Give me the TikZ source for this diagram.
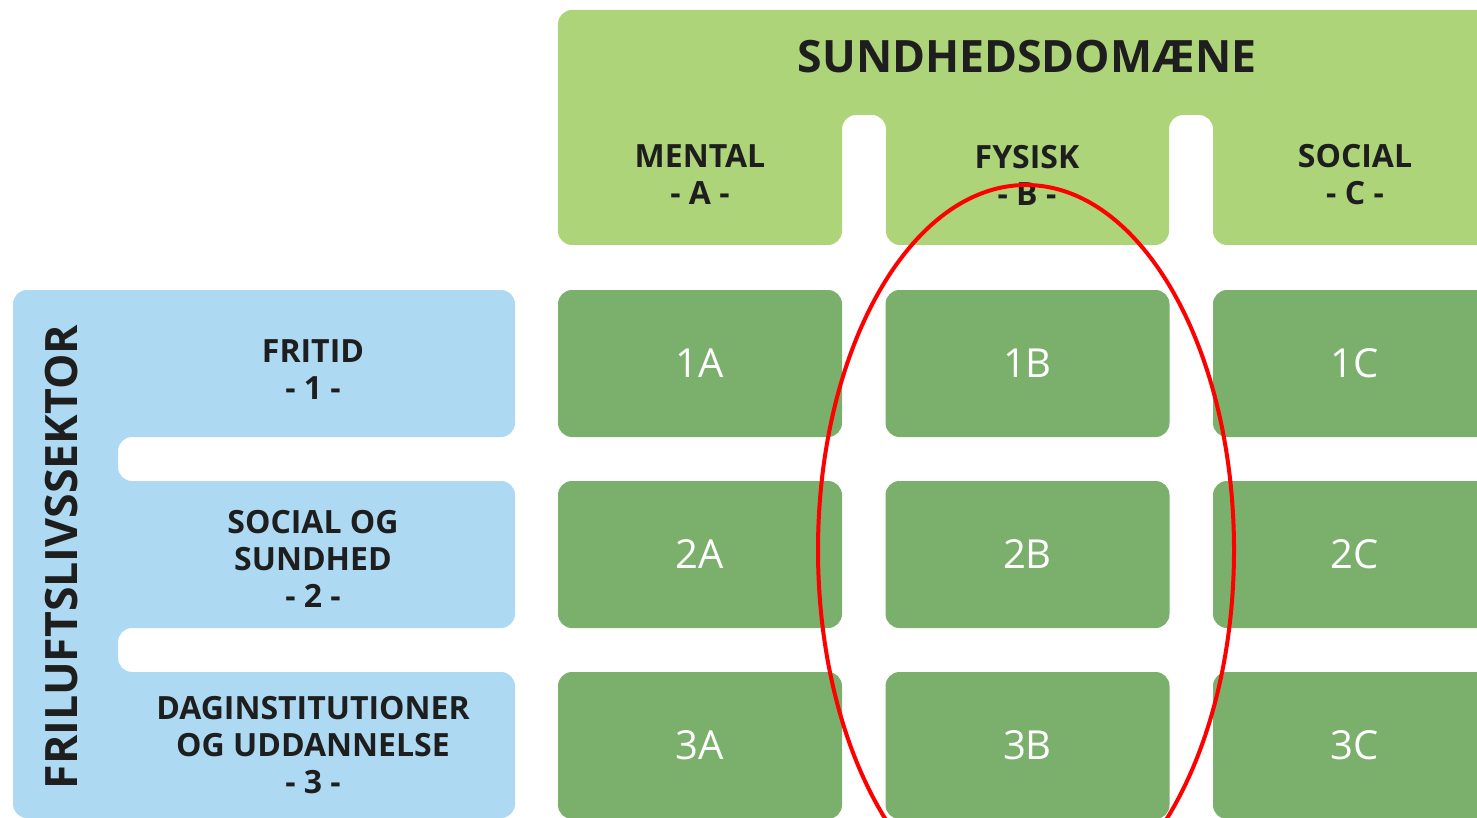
\documentclass[tikz,border=0pt]{standalone}
\usepackage{fontspec}
\setmainfont{Open Sans}
\definecolor{lightgreen}{HTML}{AED47A}
\definecolor{cellgreen}{HTML}{7AAF6C}
\definecolor{skyblue}{HTML}{ADD9F2}
\definecolor{darktext}{HTML}{1E1E1E}
\tikzset{
  cell/.style={rectangle, rounded corners=7pt, fill=cellgreen, text=white,
    minimum width=142pt, minimum height=73.5pt, font=\fontsize{20}{22}\selectfont},
  head/.style={align=center, text=darktext, font=\bfseries\fontsize{16}{18.5}\selectfont},
  bighead/.style={head, font=\bfseries\fontsize{22.3}{26}\selectfont},
}
\begin{document}
\begin{tikzpicture}[x=0.5pt,y=-0.5pt]
\useasboundingbox (0,0) rectangle (1477,818);
\clip (0,0) rectangle (1477,818);
% health domains, one banner with two notches
\fill[lightgreen, rounded corners=7pt] (558,10) -- (1520,10) -- (1520,245)
  -- (1213,245) -- (1213,115) -- (1169,115) -- (1169,245)
  -- (886,245) -- (886,115) -- (842,115) -- (842,245) -- (558,245) -- cycle;
% outdoor sector, one block with two notches
\fill[skyblue, rounded corners=7pt] (13,290) -- (515,290) -- (515,437)
  -- (118,437) -- (118,481) -- (515,481) -- (515,628)
  -- (118,628) -- (118,672) -- (515,672) -- (515,818) -- (13,818) -- cycle;
\foreach \r/\y in {1/363.5, 2/554.5, 3/745.5}
  \foreach \c/\x in {A/700, B/1027.5, C/1355}
    \node[cell] (c\r\c) at (\x,\y) {\r\c};
\node[bighead] (domain) at (1027,57) {SUNDHEDSDOMÆNE};
\node[head] (colA) at (700,175) {MENTAL\\- A -};
\node[head] (colB) at (1027,175) {FYSISK\\- B -};
\node[head] (colC) at (1355,175) {SOCIAL\\- C -};
\node[head] (rowone) at (313,370) {FRITID\\- 1 -};
\node[head] (rowtwo) at (313,559) {SOCIAL OG\\SUNDHED\\- 2 -};
\node[head] (rowthree) at (313,745) {DAGINSTITUTIONER\\OG UDDANNELSE\\- 3 -};
\node[bighead, rotate=90] (sector) at (62,557) {FRILUFTSLIVSSEKTOR};
% the physical column is circled
\draw[red, line width=2pt] (1026,550) ellipse [x radius=208, y radius=365];
\end{tikzpicture}
\end{document}
